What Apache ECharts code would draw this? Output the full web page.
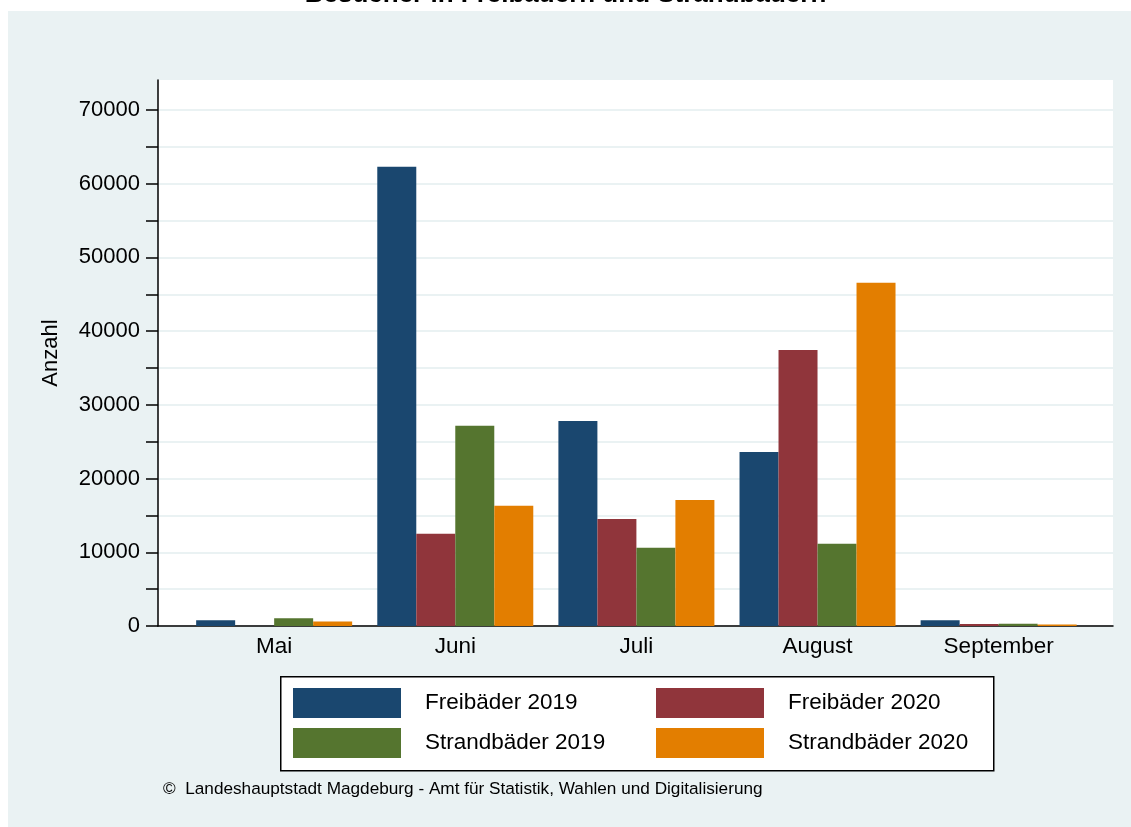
<!DOCTYPE html>
<html>
<head>
<meta charset="utf-8">
<script src="https://cdn.jsdelivr.net/npm/echarts@6/dist/echarts.min.js"></script>
<style>
  html, body { margin: 0; padding: 0; background: #fff; }
  #bg { position: absolute; left: 8px; top: 11px; width: 1123px; height: 816px; background: #eaf2f3; }
  #chart { position: absolute; left: 0; top: 0; width: 1131px; height: 827px; }
</style>
</head>
<body>
<div id="bg"></div>
<div id="chart"></div>
<script>
const months = ['Mai', 'Juni', 'Juli', 'August', 'September']
const freibaeder2019 = [780, 62300, 27800, 23600, 780]
const freibaeder2020 = [0, 12500, 14500, 37450, 270]
const strandbaeder2019 = [1050, 27150, 10600, 11150, 320]
const strandbaeder2020 = [600, 16300, 17100, 46550, 190]
const yTicks = [0, 10000, 20000, 30000, 40000, 50000, 60000, 70000]

const font = '"Liberation Sans", Arial, Helvetica, sans-serif'
const colors = ['#1a476f', '#90353b', '#55752f', '#e37e00']

const myChart = echarts.init(document.getElementById('chart'), null, { renderer: 'canvas' })

const bar = (name, data, i) => ({
    name: name,
    type: 'bar',
    xAxisIndex: 1,
    yAxisIndex: 1,
    data: data,
    barWidth: 39,
    barGap: '0%',
    itemStyle: { color: colors[i] },
    emphasis: { disabled: true }
})

const legendText = { color: '#000', fontSize: 22.5, padding: [0, 0, 0, 19], fontFamily: font }

const option = {
    backgroundColor: 'transparent',
    animation: false,
    textStyle: { fontFamily: font },
    title: {
        text: 'Besucher in Freibädern und Strandbädern',
        left: 'center',
        top: -23,
        textStyle: { fontSize: 26, fontWeight: 'bold', color: '#000', fontFamily: font }
    },
    grid: [
        // white plot area with the axis lines
        { left: 158, top: 80, width: 955, height: 546, show: true, backgroundColor: '#fff', borderWidth: 0, z: -1 },
        // bars
        { left: 183.6, top: 110, width: 905.6, height: 516 },
        // y ticks, labels, grid lines
        { left: 158, top: 110, width: 955, height: 516 }
    ],
    xAxis: [
        { gridIndex: 0, type: 'category', data: [], axisLine: { lineStyle: { color: '#000', width: 1.5 } }, axisTick: { show: false }, axisLabel: { show: false } },
        {
            gridIndex: 1, type: 'category', data: months,
            axisLine: { show: false }, axisTick: { show: false },
            axisLabel: { color: '#000', fontSize: 22.5, margin: 9, fontFamily: font }
        },
        { gridIndex: 2, type: 'category', data: [], show: false }
    ],
    yAxis: [
        {
            gridIndex: 0, type: 'value', min: 0, max: 74000,
            name: 'Anzahl', nameLocation: 'middle', nameGap: 96, nameRotate: 90,
            nameTextStyle: { color: '#000', fontSize: 22, fontFamily: font },
            axisLine: { show: true, lineStyle: { color: '#000', width: 1.5 } },
            axisTick: { show: false }, axisLabel: { show: false }, splitLine: { show: false }
        },
        { gridIndex: 1, type: 'value', min: 0, max: 70000, show: false, splitLine: { show: false } },
        {
            gridIndex: 2, type: 'value', min: 0, max: 70000, interval: 5000,
            axisLine: { show: false },
            axisTick: { show: true, length: 12, lineStyle: { color: '#000', width: 1.5 } },
            axisLabel: {
                color: '#000', fontSize: 22, margin: 18, fontFamily: font,
                formatter: v => yTicks.includes(v) ? String(v) : ''
            },
            splitLine: { show: true, lineStyle: { color: '#eaf2f3', width: 2 } }
        }
    ],
    legend: [
        {
            data: ['Freibäder 2019', 'Strandbäder 2019'],
            orient: 'vertical', left: 288, top: 683,
            itemWidth: 108, itemHeight: 30, itemGap: 10,
            icon: 'rect', selectedMode: false,
            textStyle: legendText
        },
        {
            data: ['Freibäder 2020', 'Strandbäder 2020'],
            orient: 'vertical', left: 651, top: 683,
            itemWidth: 108, itemHeight: 30, itemGap: 10,
            icon: 'rect', selectedMode: false,
            textStyle: legendText
        }
    ],
    graphic: [
        {
            type: 'rect', left: 280, top: 676, z: 0,
            shape: { width: 713, height: 94 },
            style: { fill: '#fff', stroke: '#000', lineWidth: 1.5 }
        },
        {
            type: 'text', left: 163, top: 781,
            style: { text: '©  Landeshauptstadt Magdeburg - Amt für Statistik, Wahlen und Digitalisierung', font: '17.2px ' + font, fill: '#000' }
        }
    ],
    series: [
        bar('Freibäder 2019', freibaeder2019, 0),
        bar('Freibäder 2020', freibaeder2020, 1),
        bar('Strandbäder 2019', strandbaeder2019, 2),
        bar('Strandbäder 2020', strandbaeder2020, 3)
    ]
}

myChart.setOption(option)
</script>
</body>
</html>
